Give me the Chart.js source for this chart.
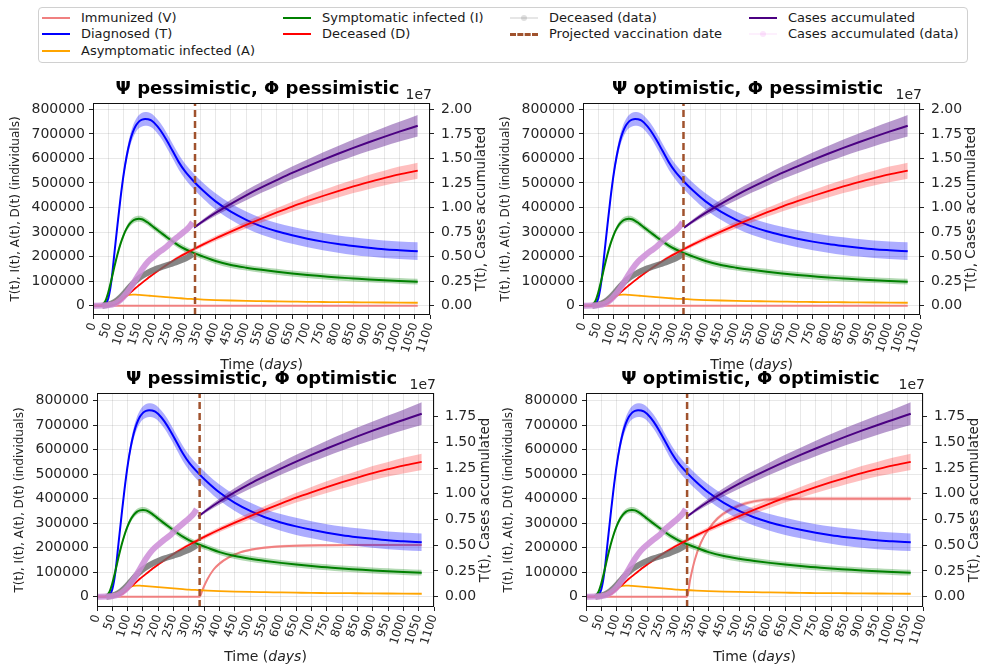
<!DOCTYPE html>
<html>
<head>
<meta charset="utf-8">
<script src="https://cdn.jsdelivr.net/npm/chart.js@4.4.1/dist/chart.umd.min.js"></script>
<style>
  body { margin: 0; background: #fff; width: 982px; height: 669px; overflow: hidden; position: relative; font-family: "DejaVu Sans", sans-serif; }
  canvas { position: absolute; }
  #legend { position: absolute; left: 38px; top: 7px; width: 928px; height: 54px; border: 1px solid #d0d0d0; border-radius: 4px; background: #fff; }
  .item { position: absolute; font-size: 13px; color: #1a1a1a; white-space: nowrap; line-height: 16px; }
  .item i { position: absolute; left: -39px; top: 7px; width: 28px; height: 0; border-top: 2px solid; }
  .item b { position: absolute; left: -28px; top: 5px; width: 6px; height: 6px; border-radius: 50%; }
</style>
</head>
<body>
<div id="legend"></div>

<script>
// time grid of the model curves (days)
const days = [0,20,30,40,50,60,70,80,90,100,110,120,130,140,150,160,170,180,190,200,220,240,260,280,300,330,360,400,450,500,550,600,650,700,750,800,850,900,950,1000,1060];

// model curves, individuals (left axis)
const diagnosed = [0,0,1000,6000,30000,100000,215000,330000,440000,535000,610000,667000,707000,734000,750000,758000,761000,760000,755000,745000,715000,675000,630000,585000,548000,505000,468000,425000,383000,350000,323000,303000,287000,273000,261000,251000,243000,236000,230000,226000,222000];
const diagnosedBand = [0,0,0,1000,3000,7000,11000,14000,17000,19000,21000,23000,25000,26000,27000,28000,28000,28000,28000,28000,29000,30000,30000,31000,31000,32000,32000,33000,33000,34000,34000,34000,35000,35000,35000,35000,36000,36000,36000,36000,36000];
const symptomatic = [0,0,3000,18000,55000,105000,160000,210000,253000,288000,315000,334000,346000,352000,354000,352000,346000,338000,328000,318000,299000,280000,262000,245000,231000,214000,200000,182000,166000,155000,146000,138000,131000,125000,120000,115000,111000,107000,104000,101000,98000];
const symptomaticBand = [0,0,500,2000,4000,6000,8000,9000,10000,11000,11000,12000,12000,12000,12000,12000,12000,12000,12000,12000,12000,12000,12000,12000,12000,12000,12000,12000,12000,12000,12000,12000,12000,12000,12000,12000,12000,12000,12000,12000,12000];
const asymptomatic = [0,0,500,2000,6000,12000,19000,26000,32000,37000,41000,44000,45000,45000,44000,43000,42000,41000,40000,39000,37000,35000,33000,31000,29000,27000,25000,23000,21000,19500,18500,17500,16500,15500,15000,14500,14000,13500,13000,12500,12000];
const deceased = [0,0,0,0,500,1500,4000,9000,18000,29000,40000,51000,62000,73000,83000,93000,103000,113000,122000,131000,149000,166000,182000,197000,211000,231000,250000,274000,302000,329000,355000,380000,404000,426000,447000,467000,486000,504000,520000,535000,550000];
const deceasedBand = [0,0,0,0,0,500,1000,1500,2000,2500,3000,3000,3500,3500,4000,4000,4500,4500,5000,5000,5500,6000,6500,7000,7500,8000,9000,10000,12000,14000,16000,18000,20000,22000,24000,26000,27000,29000,30000,32000,33000];

// immunized V per scenario
const vDaysNone = [0, 1060];
const vNone = [0, 0];
const vDaysPO = [0,335,345,360,380,400,430,470,520,580,650,750,850,1060];
const vPO = [0,0,30000,70000,110000,135000,160000,182000,196000,204000,208000,210000,211000,211000];
const vBandPO = [0,0,2000,3000,4000,5000,5000,5000,5000,5000,5000,5000,5000,5000];
const vDaysOO = [0,330,340,355,375,400,430,470,520,580,650,750,1060];
const vOO = [0,0,70000,150000,220000,275000,320000,355000,380000,395000,399000,400000,400000];
const vBandOO = [0,0,3000,5000,6000,7000,8000,8000,8000,8000,8000,8000,8000];

// cases accumulated, model (right axis, x 1e7)
const casesDays = [330,360,400,450,500,550,600,650,700,750,800,850,900,950,1000,1060];
const casesTop = [0.795,0.863,0.945,1.038,1.125,1.205,1.28,1.353,1.42,1.485,1.548,1.608,1.665,1.72,1.773,1.833];
const casesBottom = [0.778,0.845,0.925,1.015,1.098,1.173,1.245,1.313,1.378,1.44,1.5,1.558,1.613,1.666,1.717,1.778];
const casesBand = [0.01,0.02,0.03,0.04,0.05,0.055,0.06,0.065,0.07,0.075,0.08,0.085,0.09,0.095,0.1,0.11];

// observed data
const casesDataDays = [0,30,50,70,90,100,120,140,160,180,200,220,240,260,280,300,315,325];
const casesData = [0,0.001,0.005,0.02,0.06,0.09,0.17,0.27,0.37,0.45,0.505,0.555,0.6,0.66,0.71,0.76,0.805,0.85];
const deadDataDays = [30,50,70,90,110,130,150,170,190,210,230,250,270,290,310,325];
const deadData = [0,4000,15000,35000,62000,90000,112000,128000,141000,152000,160000,168000,176000,186000,198000,210000];

// ticks
const xTicks = [0,50,100,150,200,250,300,350,400,450,500,550,600,650,700,750,800,850,900,950,1000,1050,1100];
const leftTicks = [0,100000,200000,300000,400000,500000,600000,700000,800000];
const rightTicksTop = [0,0.25,0.5,0.75,1,1.25,1.5,1.75,2];
const rightTicksBottom = [0,0.25,0.5,0.75,1,1.25,1.5,1.75];

const plots = [
  { title: 'Ψ pessimistic, Φ pessimistic', box: [0, 60, 492, 320], area: [93, 103, 430, 315], vacc: 333,
    yRange: [-38000, 826000], y1Range: [-0.095, 2.065], rTicks: rightTicksTop, cases: casesTop,
    vDays: vDaysNone, v: vNone, vBand: null },
  { title: 'Ψ optimistic, Φ pessimistic', box: [491, 60, 491, 320], area: [583, 103, 920, 315], vacc: 328,
    yRange: [-38000, 826000], y1Range: [-0.095, 2.065], rTicks: rightTicksTop, cases: casesTop,
    vDays: vDaysNone, v: vNone, vBand: null },
  { title: 'Ψ pessimistic, Φ optimistic', box: [0, 350, 492, 319], area: [97, 393, 434, 607], vacc: 335,
    yRange: [-42000, 831000], y1Range: [-0.1, 1.979], rTicks: rightTicksBottom, cases: casesBottom,
    vDays: vDaysPO, v: vPO, vBand: vBandPO },
  { title: 'Ψ optimistic, Φ optimistic', box: [491, 350, 491, 319], area: [586, 393, 923, 607], vacc: 330,
    yRange: [-42000, 831000], y1Range: [-0.1, 1.979], rTicks: rightTicksBottom, cases: casesBottom,
    vDays: vDaysOO, v: vOO, vBand: vBandOO }
];

const legendItems = [
  { x: 80, y: 9, text: 'Immunized (V)', color: '#f08080' },
  { x: 80, y: 25, text: 'Diagnosed (T)', color: '#0000ff' },
  { x: 80, y: 42, text: 'Asymptomatic infected (A)', color: '#ffa500' },
  { x: 321, y: 9, text: 'Symptomatic infected (I)', color: '#008000' },
  { x: 321, y: 25, text: 'Deceased (D)', color: '#ff0000' },
  { x: 548, y: 9, text: 'Deceased (data)', color: 'rgba(128,128,128,0.2)', dot: 'rgba(128,128,128,0.25)' },
  { x: 548, y: 25, text: 'Projected vaccination date', color: '#a0522d', dash: true },
  { x: 787, y: 9, text: 'Cases accumulated', color: '#4b0082' },
  { x: 787, y: 25, text: 'Cases accumulated (data)', color: 'rgba(238,130,238,0.12)', dot: 'rgba(238,130,238,0.2)' }
];

const legend = document.getElementById('legend');
legendItems.forEach(it => {
  const d = document.createElement('div');
  d.className = 'item';
  d.style.left = (it.x - 38) + 'px';
  d.style.top = (it.y - 7) + 'px';
  const m = document.createElement('i');
  m.style.borderTopColor = it.color;
  if (it.dash) { m.style.borderTopStyle = 'dashed'; m.style.borderTopWidth = '3px'; }
  d.appendChild(m);
  if (it.dot) { const b = document.createElement('b'); b.style.background = it.dot; d.appendChild(b); }
  d.appendChild(document.createTextNode(it.text));
  legend.appendChild(d);
});

function pts(xs, ys) { return xs.map((x, i) => ({ x: x, y: ys[i] })); }

function line(xs, ys, color, width, axis) {
  return { data: pts(xs, ys), borderColor: color, borderWidth: width, pointRadius: 0, fill: false,
           yAxisID: axis, cubicInterpolationMode: 'monotone' };
}

function band(xs, ys, half, color, axis) {
  return [
    { data: pts(xs, ys.map((y, i) => y - half[i])), borderWidth: 0, pointRadius: 0, fill: false,
      yAxisID: axis, cubicInterpolationMode: 'monotone' },
    { data: pts(xs, ys.map((y, i) => y + half[i])), borderWidth: 0, pointRadius: 0, fill: '-1',
      backgroundColor: color, yAxisID: axis, cubicInterpolationMode: 'monotone' }
  ];
}

const decor = {
  id: 'decor',
  afterDraw(chart, args, o) {
    const { ctx, chartArea: a } = chart;
    const cx = (a.left + a.right) / 2, cy = (a.top + a.bottom) / 2;
    ctx.save();
    ctx.strokeStyle = '#111';
    ctx.lineWidth = 1;
    ctx.strokeRect(a.left + 0.5, a.top + 0.5, a.right - a.left - 1, a.bottom - a.top - 1);

    ctx.fillStyle = '#000';
    ctx.textBaseline = 'middle';
    ctx.textAlign = 'center';
    ctx.font = 'bold 18px "DejaVu Sans"';
    ctx.fillText(o.title, cx - 4, a.top - 14);

    ctx.fillStyle = '#222';
    ctx.font = '14px "DejaVu Sans"';
    ctx.textAlign = 'right';
    ctx.fillText('1e7', a.right + 2, a.top - 8);

    ctx.textAlign = 'center';
    ctx.save();
    ctx.translate(a.left - 77, cy);
    ctx.rotate(-Math.PI / 2);
    ctx.font = '12px "DejaVu Sans"';
    ctx.fillText('T(t), I(t), A(t), D(t) (individuals)', 0, 0);
    ctx.restore();

    ctx.save();
    ctx.translate(a.right + 51, cy);
    ctx.rotate(-Math.PI / 2);
    ctx.font = '13.5px "DejaVu Sans"';
    ctx.fillText('T(t), Cases accumulated', 0, 0);
    ctx.restore();

    const parts = [['Time (', '14px "DejaVu Sans"'], ['days', 'italic 14px "DejaVu Sans"'], [')', '14px "DejaVu Sans"']];
    let total = 0;
    parts.forEach(p => { ctx.font = p[1]; total += ctx.measureText(p[0]).width; });
    let x = cx - total / 2;
    ctx.textAlign = 'left';
    parts.forEach(p => { ctx.font = p[1]; ctx.fillText(p[0], x, a.bottom + 50); x += ctx.measureText(p[0]).width; });
    ctx.restore();
  }
};

Chart.defaults.font.family = '"DejaVu Sans", sans-serif';

plots.forEach(p => {
  const cv = document.createElement('canvas');
  cv.width = p.box[2];
  cv.height = p.box[3];
  cv.style.left = p.box[0] + 'px';
  cv.style.top = p.box[1] + 'px';
  document.body.appendChild(cv);

  const leftW = p.area[0] - p.box[0];
  const rightW = p.box[0] + p.box[2] - p.area[2];
  const topPad = p.area[1] - p.box[1];
  const bottomH = p.box[1] + p.box[3] - p.area[3];

  // bottom-to-top drawing list
  let ds = [];
  if (p.vBand) ds = ds.concat(band(p.vDays, p.v, p.vBand, 'rgba(240,128,128,0.35)', 'y'));
  ds.push(line(p.vDays, p.v, '#f08080', 2, 'y'));
  ds = ds.concat(band(days, diagnosed, diagnosedBand, 'rgba(0,0,255,0.32)', 'y'));
  ds.push(line(days, diagnosed, '#0000ff', 2, 'y'));
  ds.push(line(days, asymptomatic, '#ffa500', 1.8, 'y'));
  ds = ds.concat(band(days, symptomatic, symptomaticBand, 'rgba(0,128,0,0.3)', 'y'));
  ds.push(line(days, symptomatic, '#008000', 2, 'y'));
  ds = ds.concat(band(days, deceased, deceasedBand, 'rgba(255,0,0,0.25)', 'y'));
  ds.push(line(days, deceased, '#ff0000', 1.8, 'y'));
  ds.push(line(deadDataDays, deadData, 'rgba(105,105,105,0.8)', 6, 'y'));
  ds = ds.concat(band(casesDays, p.cases, casesBand, 'rgba(75,0,130,0.4)', 'y1'));
  ds.push(line(casesDays, p.cases, '#4b0082', 2, 'y1'));
  ds.push(line(casesDataDays, casesData, 'rgba(205,140,215,0.85)', 6, 'y1'));
  ds.push({ data: [{ x: p.vacc, y: p.yRange[0] }, { x: p.vacc, y: p.yRange[1] }], borderColor: '#a0522d',
            borderWidth: 2.5, borderDash: [7, 4], pointRadius: 0, fill: false, yAxisID: 'y' });
  ds.forEach((d, i) => { d.order = -i; });

  const tickFont = { size: 14 };
  new Chart(cv, {
    type: 'line',
    data: { datasets: ds },
    options: {
      responsive: false,
      animation: false,
      events: [],
      layout: { padding: { top: topPad, left: 0, right: 0, bottom: 0 } },
      plugins: { legend: { display: false }, tooltip: { enabled: false }, decor: { title: p.title } },
      scales: {
        x: {
          type: 'linear', min: 0, max: 1100,
          afterBuildTicks: s => { s.ticks = xTicks.map(v => ({ value: v })); },
          afterFit: s => { s.height = bottomH; },
          grid: { color: 'rgba(0,0,0,0.09)', tickColor: '#222', tickLength: 4 },
          border: { display: false },
          ticks: { autoSkip: false, minRotation: 72, maxRotation: 72, padding: 2, color: '#262626',
                   font: { size: 12 }, callback: v => String(v) }
        },
        y: {
          type: 'linear', position: 'left', min: p.yRange[0], max: p.yRange[1],
          afterBuildTicks: s => { s.ticks = leftTicks.map(v => ({ value: v })); },
          afterFit: s => { s.width = leftW; },
          grid: { color: 'rgba(0,0,0,0.09)', tickColor: '#222', tickLength: 4 },
          border: { display: false },
          ticks: { padding: 4, color: '#262626', font: tickFont, callback: v => String(v) }
        },
        y1: {
          type: 'linear', position: 'right', min: p.y1Range[0], max: p.y1Range[1],
          afterBuildTicks: s => { s.ticks = p.rTicks.map(v => ({ value: v })); },
          afterFit: s => { s.width = rightW; },
          grid: { drawOnChartArea: false, tickColor: '#222', tickLength: 4 },
          border: { display: false },
          ticks: { padding: 7, color: '#262626', font: tickFont, callback: v => v.toFixed(2) }
        }
      }
    },
    plugins: [decor]
  });
});
</script>
</body>
</html>
